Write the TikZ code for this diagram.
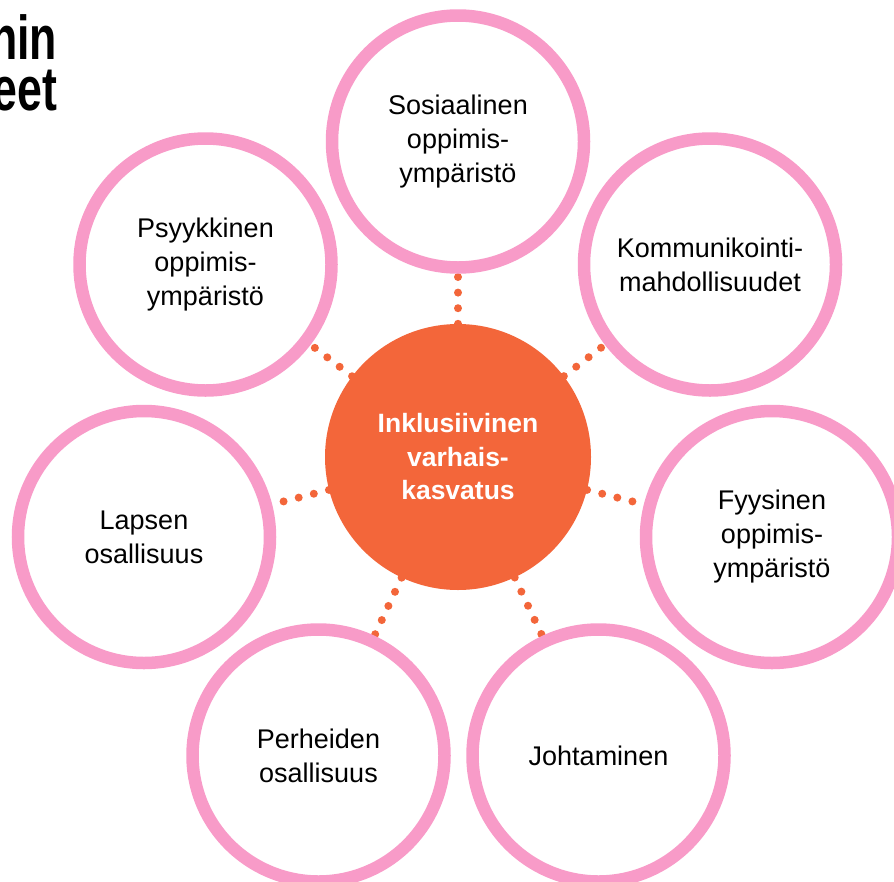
\documentclass[tikz,border=0pt]{standalone}
\usepackage{fontspec}
\setmainfont{Liberation Sans}
\newfontfamily\titlefont[FakeStretch=0.72]{Liberation Sans}
\usetikzlibrary{backgrounds}
\definecolor{ringpink}{RGB}{248,155,200}
\definecolor{coreorange}{RGB}{243,102,58}
\tikzset{
  ring/.style={circle, draw=ringpink, line width=12.5pt, fill=white,
    minimum size=252pt, inner sep=0pt, align=center,
    font=\fontsize{27pt}{34pt}\selectfont, text=black},
  core/.style={circle, fill=coreorange, minimum size=266pt, inner sep=0pt,
    align=center, font=\fontsize{26.5pt}{33.5pt}\selectfont\bfseries,
    text=white},
  dotline/.style={draw=coreorange, line width=8pt, line cap=round,
    dash pattern=on 0pt off 15.6pt},
  titletext/.style={anchor=north east, inner sep=0pt, outer sep=0pt,
    align=right,
    font=\titlefont\bfseries\fontsize{62pt}{51pt}\selectfont, text=black}
}
\begin{document}
\begin{tikzpicture}[x=1pt,y=-1pt]
\useasboundingbox (0,0) rectangle (894,881);
\clip (0,0) rectangle (894,881);
\node[titletext] (title) at (57,15) {nin\hspace{4pt}\\eet};
\node[core] (c) at (458,457) {Inklusiivinen\\varhais-\\kasvatus};
\node[ring] (sos) at (458,141.5) {Sosiaalinen\\oppimis-\\ympäristö};
\node[ring] (psy) at (205.5,264.5) {Psyykkinen\\oppimis-\\ympäristö};
\node[ring] (kom) at (710,264.5) {Kommunikointi-\\mahdollisuudet};
\node[ring] (lap) at (144,537) {Lapsen\\osallisuus};
\node[ring] (fyy) at (772,537) {Fyysinen\\oppimis-\\ympäristö};
\node[ring] (per) at (318.5,755.5) {Perheiden\\osallisuus};
\node[ring] (joh) at (598.5,755.5) {Johtaminen};
\begin{scope}[on background layer]
  \foreach \n in {sos,psy,kom,lap,fyy,per,joh}
    \draw[dotline] (c) -- (\n);
\end{scope}
\end{tikzpicture}
\end{document}
